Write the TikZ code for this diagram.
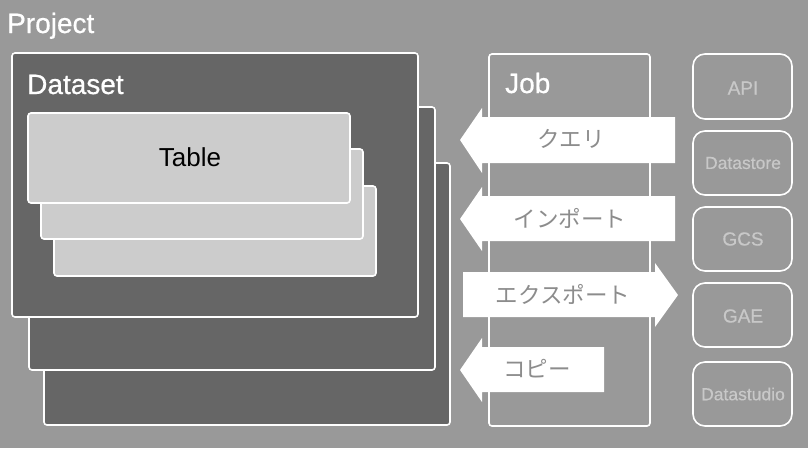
\documentclass[tikz,border=0pt]{standalone}
\usepackage{fontspec}
\setmainfont{Liberation Sans}
\newfontfamily\medfont[FakeBold=0.6]{Liberation Sans}
\newfontfamily\jpfont{Noto Sans CJK JP}
\definecolor{bggray}{HTML}{999999}
\definecolor{dsgray}{HTML}{666666}
\definecolor{tbgray}{HTML}{CCCCCC}
\definecolor{argray}{HTML}{8C8C8C}
\definecolor{svgray}{HTML}{C8C8C8}
\begin{document}
\begin{tikzpicture}[x=1pt,y=-1pt,
  dsbox/.style={draw=white,line width=1.6pt,fill=dsgray,rounded corners=3pt},
  tbbox/.style={draw=white,line width=1.6pt,fill=tbgray,rounded corners=3pt},
  jobbox/.style={draw=white,line width=1.6pt,fill=bggray,rounded corners=3pt},
  svbox/.style={draw=white,line width=1.6pt,fill=bggray,rounded corners=12pt},
  arrowshape/.style={fill=white,draw=none},
  titletext/.style={text=white,font=\medfont\fontsize{28}{30}\selectfont,inner sep=0pt},
  svtext/.style={text=svgray,font=\medfont\fontsize{19}{21}\selectfont,inner sep=0pt},
  svsmall/.style={svtext,font=\medfont\fontsize{17.5}{19}\selectfont},
  artext/.style={text=argray,font=\jpfont\fontsize{22.5}{24}\selectfont,inner sep=0pt}]
\fill[bggray] (0,0) rectangle (808,448);
\useasboundingbox (0,0) rectangle (808,448);
% datasets
\draw[dsbox] (44,163) rectangle (450,425);
\draw[dsbox] (29,107) rectangle (435,370);
\draw[dsbox] (12,53) rectangle (418,317);
% tables
\draw[tbbox] (54,186) rectangle (376,276);
\draw[tbbox] (41,149) rectangle (363,239);
\draw[tbbox] (28,113) rectangle (350,203);
\node[titletext,anchor=base west] (project) at (7,33) {Project};
\node[titletext,anchor=base west] (dataset) at (27,94) {Dataset};
\node[titletext,text=black,font=\fontsize{26}{28}\selectfont,anchor=base] (table) at (190,166) {Table};
% job
\draw[jobbox] (489,54) rectangle (650,426);
\node[titletext,anchor=base west] (job) at (505,93) {Job};
% arrows
\fill[arrowshape] (675,117) -- (482,117) -- (482,108) -- (460,140) -- (482,173) -- (482,163) -- (675,163) -- cycle;
\fill[arrowshape] (675,196) -- (482,196) -- (482,187) -- (460,219) -- (482,251) -- (482,241) -- (675,241) -- cycle;
\fill[arrowshape] (463,272) -- (655,272) -- (655,263) -- (678,295) -- (655,327) -- (655,317) -- (463,317) -- cycle;
\fill[arrowshape] (604,347) -- (482,347) -- (482,338) -- (460,370) -- (482,402) -- (482,392) -- (604,392) -- cycle;
\node[artext] (query) at (571,139) {クエリ};
\node[artext] (import) at (570,218) {インポート};
\node[artext] (export) at (563,294) {エクスポート};
\node[artext] (copy) at (537,369) {コピー};
% services
\draw[svbox] (693,54) rectangle (792,119);
\draw[svbox] (693,131) rectangle (792,195);
\draw[svbox] (693,207) rectangle (792,271);
\draw[svbox] (693,283) rectangle (792,347);
\draw[svbox] (693,362) rectangle (792,426);
\node[svtext] (api) at (743,88) {API};
\node[svsmall] (datastore) at (743,163) {Datastore};
\node[svtext] (gcs) at (743,239) {GCS};
\node[svtext] (gae) at (743,316) {GAE};
\node[svsmall] (datastudio) at (743,394) {Datastudio};
\end{tikzpicture}
\end{document}
